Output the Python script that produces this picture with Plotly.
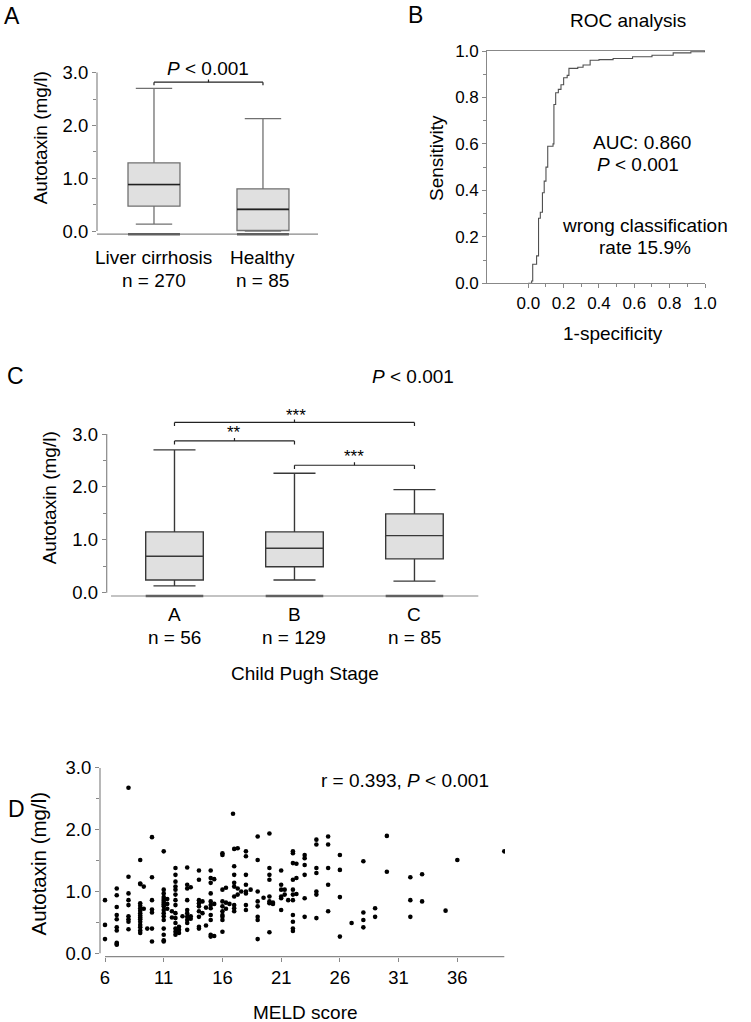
import plotly.graph_objects as go

W, H = 751, 1022
def fx(p): return p / W
def fy(p): return 1 - p / H

FONT = "Liberation Sans, Arial, sans-serif"
AXC = "#888888"

# ---------------- Panel A data ----------------
a_groups = ["Liver cirrhosis", "Healthy"]
a_n = [270, 85]
a_lower = [0.13, 0.00]
a_q1 = [0.47, 0.01]
a_median = [0.88, 0.41]
a_q3 = [1.29, 0.80]
a_upper = [2.70, 2.13]
y_ticks = [0, 1, 2, 3]
y_minor = [0.5, 1.5, 2.5]

# ---------------- Panel B data (ROC) ----------------
roc_fpr = [0, 0.019, 0.025, 0.047, 0.058, 0.068, 0.08, 0.09, 0.10, 0.11, 0.14, 0.145,
           0.155, 0.17, 0.185, 0.20, 0.22, 0.23, 0.28, 0.31, 0.35, 0.40, 0.48, 0.59,
           0.70, 0.82, 0.92, 1.0]
roc_tpr = [0, 0.01, 0.082, 0.118, 0.28, 0.306, 0.39, 0.44, 0.50, 0.59, 0.60, 0.77,
           0.82, 0.835, 0.855, 0.885, 0.895, 0.925, 0.93, 0.94, 0.96, 0.963, 0.968, 0.975,
           0.982, 0.992, 0.997, 1.0]
roc_ticks = [0, 0.2, 0.4, 0.6, 0.8, 1.0]
roc_minor = [0.1, 0.3, 0.5, 0.7, 0.9]

# ---------------- Panel C data ----------------
c_groups = ["A", "B", "C"]
c_n = [56, 129, 85]
c_lower = [0.13, 0.24, 0.22]
c_q1 = [0.24, 0.49, 0.64]
c_median = [0.69, 0.84, 1.08]
c_q3 = [1.15, 1.15, 1.49]
c_upper = [2.70, 2.26, 1.95]

# ---------------- Panel D data (scatter) ----------------
meld = (
    [6]*3 + [7]*10 + [8]*9 + [9]*16 + [9.3]*2 + [10]*7 + [9.6] +
    [11]*17 + [11.3]*3 + [11.7]*2 + [12]*14 + [12.3]*3 + [12.6] +
    [13]*10 + [13.3]*3 + [14]*9 + [14.3]*2 + [14.6]*2 +
    [15]*11 + [15.3]*3 + [16]*10 + [16.3]*3 + [16.6] + [16.9] +
    [17]*9 + [17.3]*3 + [17.6] + [18]*8 + [18.4] + [19]*8 + [19.5] +
    [20]*8 + [20.3]*2 + [21]*6 + [21.3]*2 + [21.6] + [22]*11 + [22.3]*3 +
    [23]*6 + [24]*7 + [25]*5 + [26]*4 + [27] + [28]*4 + [29]*2 + [30]*2 +
    [32]*3 + [33]*2 + [35] + [36] + [40]
)
atx = (
    [0.86, 0.46, 0.23] +
    [1.05, 0.94, 0.75, 0.62, 0.55, 0.42, 0.37, 0.17, 0.15, 0.14] +
    [2.68, 1.24, 0.97, 0.86, 0.78, 0.60, 0.55, 0.51, 0.39] +
    [1.51, 1.13, 1.12, 0.81, 0.77, 0.73, 0.69, 0.65, 0.61, 0.58, 0.55, 0.51, 0.46, 0.42, 0.37, 0.33] +
    [1.08, 0.72] +
    [1.88, 1.23, 0.86, 0.71, 0.66, 0.40, 0.19] + [0.40] +
    [1.65, 1.03, 0.97, 0.91, 0.88, 0.85, 0.82, 0.79, 0.76, 0.70, 0.65, 0.60, 0.54, 0.40, 0.30, 0.21, 0.19] +
    [0.88, 0.80, 0.72] + [0.68, 0.58] +
    [1.38, 1.27, 1.16, 1.08, 1.03, 0.95, 0.86, 0.78, 0.65, 0.57, 0.49, 0.40, 0.35, 0.30] +
    [0.43, 0.38, 0.33] + [0.60] +
    [1.39, 1.11, 1.05, 0.86, 0.70, 0.65, 0.59, 0.54, 0.49, 0.38] +
    [1.07, 0.60, 0.56] +
    [1.34, 1.19, 0.86, 0.81, 0.76, 0.68, 0.59, 0.43, 0.40] +
    [0.84, 0.65] + [0.74, 0.45] +
    [1.34, 1.22, 1.14, 0.97, 0.84, 0.78, 0.73, 0.62, 0.54, 0.30, 0.27] +
    [1.20, 0.80, 0.28] +
    [1.62, 1.59, 1.03, 0.84, 0.76, 0.68, 0.62, 0.59, 0.54, 0.35] +
    [1.06, 0.82, 0.72] + [0.80] + [2.26] +
    [1.69, 1.41, 1.27, 1.14, 1.08, 0.92, 0.78, 0.73, 0.68] +
    [1.70, 1.05, 0.95] + [1.00] +
    [1.65, 1.57, 1.27, 1.11, 1.00, 0.97, 0.78, 0.70] + [1.03] +
    [1.89, 1.51, 1.00, 0.84, 0.76, 0.59, 0.54, 0.23] + [0.90] +
    [1.94, 1.38, 1.27, 1.19, 0.92, 0.84, 0.81, 0.34] + [0.82, 0.80] +
    [1.34, 1.11, 1.03, 0.92, 0.89, 0.70] + [1.03, 0.95] + [0.86] +
    [1.65, 1.62, 1.46, 1.19, 1.03, 0.95, 0.86, 0.62, 0.51, 0.40, 0.36] +
    [1.45, 1.22, 0.96] +
    [1.59, 1.54, 1.43, 1.27, 0.89, 0.59] +
    [1.84, 1.76, 1.38, 1.30, 1.00, 0.95, 0.57] +
    [1.89, 1.76, 1.38, 1.11, 0.68] +
    [1.59, 1.35, 0.91, 0.27] +
    [0.49] +
    [1.49, 0.66, 0.54, 0.42] +
    [0.73, 0.59] +
    [1.90, 1.32] +
    [1.23, 0.86, 0.59] +
    [1.28, 0.84] +
    [0.69] + [1.51] + [1.65]
)
meld_ticks = [6, 11, 16, 21, 26, 31, 36]

fig = go.Figure()

# ---- Panel A boxes
A_W = 0.477
fig.add_trace(go.Box(
    x=list(range(len(a_groups))), q1=a_q1, median=a_median, q3=a_q3,
    lowerfence=a_lower, upperfence=a_upper, width=A_W, whiskerwidth=0.7,
    fillcolor="#e0e0e0", line=dict(color="#707070", width=1.3),
    boxpoints=False, xaxis="x", yaxis="y", showlegend=False, hoverinfo="skip"))

# ---- Panel B ROC
fig.add_trace(go.Scatter(
    x=roc_fpr, y=roc_tpr, mode="lines", line=dict(color="#505050", width=1.1, shape="hv"),
    xaxis="x2", yaxis="y2", showlegend=False, hoverinfo="skip"))

# ---- Panel C boxes
C_W = 0.48
fig.add_trace(go.Box(
    x=list(range(len(c_groups))), q1=c_q1, median=c_median, q3=c_q3,
    lowerfence=c_lower, upperfence=c_upper, width=C_W, whiskerwidth=0.73,
    fillcolor="#e0e0e0", line=dict(color="#383838", width=1.4),
    boxpoints=False, xaxis="x3", yaxis="y3", showlegend=False, hoverinfo="skip"))

# ---- Panel D scatter
fig.add_trace(go.Scatter(
    x=meld, y=atx, mode="markers", marker=dict(color="black", size=4.6),
    xaxis="x4", yaxis="y4", showlegend=False, hoverinfo="skip"))

shapes = []
def line(xref, yref, x0, y0, x1, y1, color=AXC, width=1.2):
    shapes.append(dict(type="line", xref=xref, yref=yref, x0=x0, y0=y0, x1=x1, y1=y1,
                       line=dict(color=color, width=width)))

def bracket(xa, ya, x0, x1, y, drop, rise, color="#222222"):
    line(xa, ya, x0, y, x1, y, color, 1.2)
    line(xa, ya, x0, y, x0, y - drop, color, 1.2)
    line(xa, ya, x1, y, x1, y - drop, color, 1.2)
    cx = (x0 + x1) / 2
    line(xa, ya, cx, y, cx, y + rise, color, 1.2)

# Axis lines panel A
line("x domain", "y", 0, 0, 0, 3)
line("x domain", "y domain", 0, 0, 1, 0)
for i in range(len(a_groups)):
    line("x", "y domain", i - A_W / 2, 0, i + A_W / 2, 0, "#606060", 2.6)
    line("x", "y", i - A_W / 2, a_median[i], i + A_W / 2, a_median[i], "#202020", 1.6)
bracket("x", "y", 0, 1, 2.82, 0.057, 0.05)

# Panel C
line("x3 domain", "y3", 0, 0, 0, 3)
line("x3 domain", "y3 domain", 0.0116, 0, 1, 0)
for i in range(len(c_groups)):
    line("x3", "y3 domain", i - C_W / 2, 0, i + C_W / 2, 0, "#606060", 2.6)
bracket("x3", "y3", 0, 2, 3.22, 0.07, 0.057)
bracket("x3", "y3", 0, 1, 2.87, 0.07, 0.057)
bracket("x3", "y3", 1, 2, 2.41, 0.07, 0.057)

# Panel D
line("x4 domain", "y4", 0, 0, 0, 3)
line("x4", "y4 domain", 6, 0, 40, 0)

tickfont = dict(family=FONT, size=18.5, color="black")
yax_common = dict(tickvals=y_ticks, ticktext=[f"{v:.1f}" for v in y_ticks], ticks="outside",
                  ticklen=4, tickcolor=AXC, tickwidth=1, showgrid=False, zeroline=False,
                  showline=False, tickfont=tickfont, automargin=False,
                  minor=dict(tickvals=y_minor, ticks="outside", ticklen=3, tickcolor=AXC, showgrid=False))

fig.update_layout(
    width=W, height=H, margin=dict(l=0, r=0, t=0, b=0, pad=0, autoexpand=False),
    paper_bgcolor="white", plot_bgcolor="white",
    font=dict(family=FONT, size=19, color="black"),
    shapes=shapes,
    xaxis=dict(domain=[fx(97), fx(318)], range=[-0.523, 1.505], anchor="y", automargin=False,
               tickvals=list(range(len(a_groups))), showticklabels=False,
               ticks="", showgrid=False, zeroline=False, showline=False),
    yaxis=dict(domain=[fy(234.2), fy(51.5)], range=[-0.06, 3.4], anchor="x", **yax_common),
    xaxis2=dict(domain=[fx(487.3), fx(705)], range=[-0.232, 1.0], anchor="y2", automargin=False,
                tickvals=roc_ticks, ticktext=[f"{v:.1f}" for v in roc_ticks],
                ticks="outside", ticklen=4, tickcolor=AXC, showgrid=False, zeroline=False,
                showline=True, mirror=True, linecolor=AXC, linewidth=1.2,
                tickfont=dict(family=FONT, size=17, color="black"),
                minor=dict(tickvals=roc_minor, ticks="outside", ticklen=3, tickcolor=AXC, showgrid=False)),
    yaxis2=dict(domain=[fy(283.3), fy(51)], range=[0, 1], anchor="x2", automargin=False,
                tickvals=roc_ticks, ticktext=[f"{v:.1f}" for v in roc_ticks],
                ticks="outside", ticklen=4, tickcolor=AXC, showgrid=False, zeroline=False,
                showline=True, linecolor=AXC, linewidth=1.2,
                tickfont=dict(family=FONT, size=17, color="black"),
                minor=dict(tickvals=roc_minor, ticks="outside", ticklen=3, tickcolor=AXC, showgrid=False)),
    xaxis3=dict(domain=[fx(106.7), fx(478.3)], range=[-0.565, 2.532], anchor="y3", automargin=False,
                tickvals=list(range(len(c_groups))), showticklabels=False,
                ticks="", showgrid=False, zeroline=False, showline=False),
    yaxis3=dict(domain=[fy(596), fy(407.6)], range=[-0.062, 3.5], anchor="x3", **yax_common),
    xaxis4=dict(domain=[fx(100), fx(505)], range=[5.574, 40.06], anchor="y4", automargin=False,
                tickvals=meld_ticks, ticks="outside", ticklen=4, tickcolor=AXC,
                showgrid=False, zeroline=False, showline=False, tickfont=tickfont),
    yaxis4=dict(domain=[fy(956.7), fy(765)], range=[-0.055, 3.048], anchor="x4", **yax_common),
)

anns = []
def ann(text, x, y, size=19, angle=0, xref="paper", yref="paper", xanchor="center"):
    if xref == "paper":
        x = fx(x)
    if yref == "paper":
        y = fy(y)
    anns.append(dict(text=text, x=x, y=y, xref=xref, yref=yref, showarrow=False,
                     xanchor=xanchor, yanchor="middle", textangle=angle,
                     font=dict(family=FONT, size=size, color="black")))

P = "<i>P</i> &lt; 0.001"
# panel letters
ann("A", 12, 16, 23)
ann("B", 416, 15, 23)
ann("C", 15, 376, 23)
ann("D", 16, 809, 23)
# Panel A
ann("Autotaxin (mg/l)", 40, 138.3, 19, -90)
ann(P, 208, 69)
for i, (g, n) in enumerate(zip(a_groups, a_n)):
    ann(g, i, 258, xref="x")
    ann(f"n = {n}", i, 280, xref="x")
# Panel B
ann("ROC analysis", 628.3, 20)
ann("Sensitivity", 436.7, 158.3, 19, -90)
ann("1-specificity", 613.3, 333)
ann("AUC: 0.860", 641.7, 142)
ann(P, 638, 164)
ann("wrong classification", 645, 225.5)
ann("rate 15.9%", 645, 247)
# Panel C
ann(P, 413, 377)
ann("Autotaxin (mg/l)", 49, 498.3, 19, -90)
for i, (g, n) in enumerate(zip(c_groups, c_n)):
    ann(g, i, 614, xref="x3")
    ann(f"n = {n}", i, 637, xref="x3")
ann("Child Pugh Stage", 305, 673.5)
ann("***", 295.7, 415, 17)
ann("**", 234.3, 433, 17)
ann("***", 354.3, 457, 17)
# Panel D
ann("Autotaxin (mg/l)", 37.5, 864, 20.5, -90)
ann("r = 0.393, " + P, 404.7, 780)
ann("MELD score", 305.8, 1012)

fig.update_layout(annotations=anns)
fig.write_html(
    "out.html",
    config={"displayModeBar": False},
    post_script="document.documentElement.style.margin='0';document.body.style.margin='0';"
                "document.body.style.padding='0';document.documentElement.style.overflow='hidden';"
                "document.body.style.overflow='hidden';",
)
